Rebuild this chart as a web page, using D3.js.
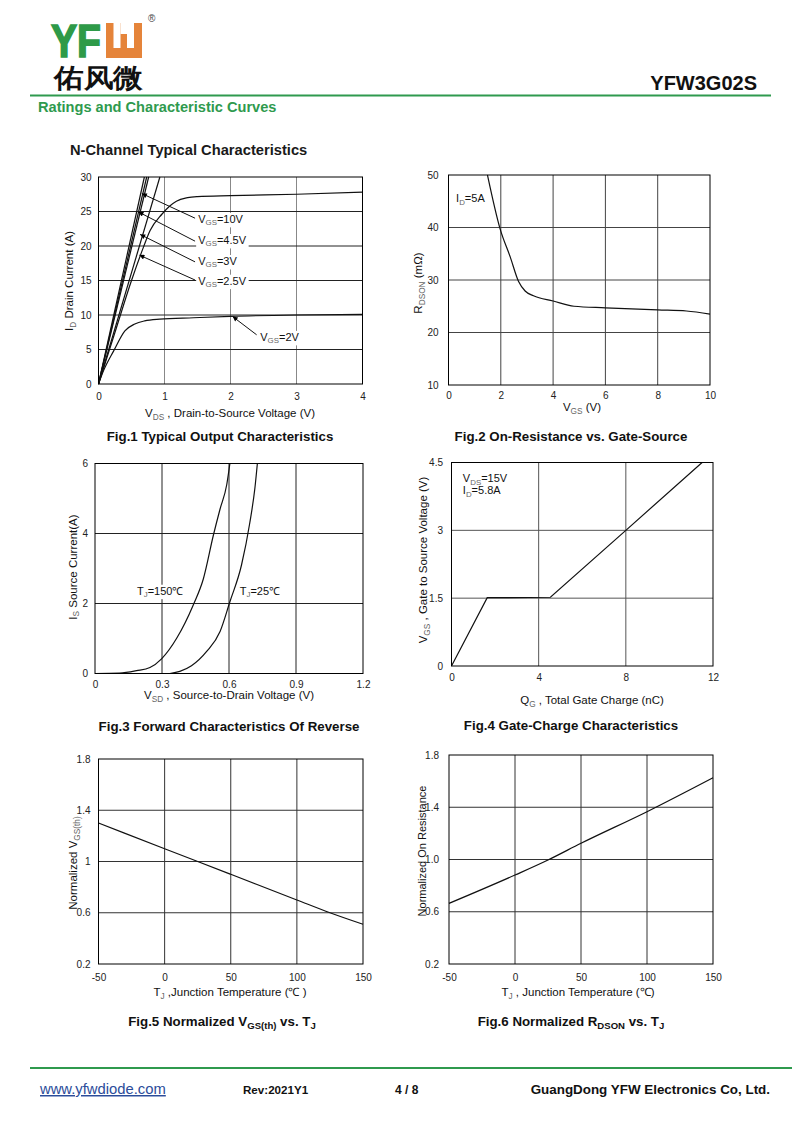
<!DOCTYPE html>
<html><head><meta charset="utf-8">
<script src="https://cdn.jsdelivr.net/npm/d3@7"></script>
<style>body{margin:0;background:#fff}svg text{font-family:"Liberation Sans",Arial,Helvetica,sans-serif}</style>
</head><body><svg id="c" width="800" height="1130"></svg>
<script>
// ---------------- DATA ----------------
const fig1XTicks = [0,1,2,3,4];
const fig1YTicks = [0,5,10,15,20,25,30];
const fig1Vgs10 = [[0,0],[0.695,30]];
const fig1Vgs45 = [[0,0],[0.73,30]];
const fig1Vgs3  = [[0,0],[0.76,30]];
const fig1Vgs25 = [[0,0],[0.93,30]];
const fig1Sat   = [[0,0],[0.25,7.5],[0.5,15],[0.68,19.8],[0.78,22.2],[0.96,24.6],[1.08,25.8],[1.18,26.5],[1.35,27.0],[1.5,27.15],[2,27.3],[3,27.5],[4,27.8]];
const fig1Vgs2  = [[0,0],[0.075,1.9],[0.23,4.8],[0.4,7.7],[0.55,8.7],[0.7,9.15],[0.93,9.4],[1.44,9.6],[2,9.8],[3,10.0],[4,10.1]];
const fig1Labels = [
  {parts:["V","_GS","=10V"],  lx:1.51, ly:23.9, sx:1.463, sy:24.03, tx:0.657, ty:27.6},
  {parts:["V","_GS","=4.5V"], lx:1.51, ly:20.85, sx:1.463, sy:20.7, tx:0.605, ty:24.94},
  {parts:["V","_GS","=3V"],   lx:1.51, ly:17.8, sx:1.463, sy:17.7, tx:0.631, ty:21.68},
  {parts:["V","_GS","=2.5V"], lx:1.51, ly:14.95, sx:1.463, sy:15.07, tx:0.62, ty:18.68},
  {parts:["V","_GS","=2V"],   lx:2.45, ly:6.8, sx:2.396, sy:7.13, tx:2.033, ty:9.77}
];

const fig2XTicks = [0,2,4,6,8,10];
const fig2YTicks = [10,20,30,40,50];
const fig2Rdson = [[1.49,50],[1.97,39.8],[2.36,34.4],[2.68,29.7],[2.93,27.9],[3.25,27],[4,26],[4.8,25],[6,24.7],[8,24.3],[9.1,24.1],[10,23.5]];

const fig3XTicks = [0,0.3,0.6,0.9,1.2];
const fig3XLabels = ["0","0.3","0.6","0.9","1.2"];
const fig3YTicks = [0,2,4,6];
const fig3T150 = [[0,0],[0.11,0.01],[0.186,0.08],[0.246,0.17],[0.298,0.42],[0.365,1.0],[0.44,1.96],[0.485,2.7],[0.53,3.95],[0.56,4.7],[0.59,5.4],[0.604,6.0]];
const fig3T25  = [[0.335,0],[0.38,0.06],[0.432,0.22],[0.5,0.63],[0.56,1.2],[0.604,2.05],[0.656,3.1],[0.693,4.3],[0.716,5.3],[0.727,6.0]];

const fig4XTicks = [0,4,8,12];
const fig4YTicks = [0,1.5,3,4.5];
const fig4YLabels = ["0","1.5","3","4.5"];
const fig4Vgs = [[0,0],[1.64,1.51],[4.54,1.52],[8,3.0],[11.5,4.5]];

const fig5XTicks = [-50,0,50,100,150];
const fig5YTicks = [0.2,0.6,1.0,1.4,1.8];
const fig5YLabels = ["0.2","0.6","1","1.4","1.8"];
const fig5Vth = [[-50,1.3],[0,1.1],[25,1.0],[50,0.9],[100,0.7],[125,0.6],[150,0.51]];

const fig6XTicks = [-50,0,50,100,150];
const fig6YTicks = [0.2,0.6,1.0,1.4,1.8];
const fig6YLabels = ["0.2","0.6","1.0","1.4","1.8"];
const fig6Ron = [[-50,0.664],[0,0.881],[25,0.996],[50,1.124],[100,1.366],[150,1.626]];

// ---------------- DRAW ----------------
const FONT = '"Liberation Sans", Arial, Helvetica, sans-serif';
const GREEN = "#2f9a4e";
const svg = d3.select("#c");
svg.append("rect").attr("width",800).attr("height",1130).attr("fill","#fff");
const defs = svg.append("defs");
defs.append("marker").attr("id","ah").attr("viewBox","0 0 10 10").attr("refX",10).attr("refY",5)
  .attr("markerWidth",8).attr("markerHeight",5).attr("markerUnits","userSpaceOnUse").attr("orient","auto")
  .append("path").attr("d","M0,0L10,5L0,10z").attr("fill","#000");

function rich(sel, parts, fs, subFill){
  let shifted = false;
  parts.forEach(p=>{
    const isSub = p.startsWith("_");
    const t = sel.append("tspan").text(isSub ? p.slice(1) : p);
    if(isSub){
      t.attr("font-size", fs*0.72).attr("dy", fs*0.22);
      if(subFill) t.attr("fill", subFill);
      shifted = true;
    } else if(shifted){
      t.attr("dy", -fs*0.22); shifted = false;
    }
  });
  return sel;
}
function txt(g, x, y, parts, o){
  o = o || {};
  const fs = o.fs || 11.5;
  const t = g.append("text").attr("x",x).attr("y",y).attr("font-size",fs)
    .attr("font-family",FONT).attr("fill",o.fill||"#111")
    .attr("text-anchor",o.anchor||"start").attr("font-weight",o.bold?"bold":"normal");
  if(o.rotate) t.attr("transform",`rotate(-90,${x},${y})`);
  if(o.dy) t.attr("dy",o.dy);
  rich(t, parts, fs, o.subFill===undefined ? "#666" : o.subFill);
  if(o.bg){
    const b = t.node().getBBox();
    g.insert("rect", () => t.node()).attr("x",b.x-2).attr("y",b.y).attr("width",b.width+4).attr("height",b.height).attr("fill","#fff");
  }
  return t;
}

function plot(c){
  const g = svg.append("g");
  const x = d3.scaleLinear().domain(c.xd).range([c.L,c.R]);
  const y = d3.scaleLinear().domain(c.yd).range([c.B,c.T]);
  g.selectAll(null).data(c.xt.slice(1,-1)).join("line")
    .attr("x1",d=>x(d)).attr("x2",d=>x(d)).attr("y1",c.T).attr("y2",c.B)
    .attr("stroke",c.gv||"#333").attr("stroke-width",1);
  g.selectAll(null).data(c.yt.slice(1,-1)).join("line")
    .attr("y1",d=>y(d)).attr("y2",d=>y(d)).attr("x1",c.L).attr("x2",c.R)
    .attr("stroke",c.gh||"#333").attr("stroke-width",1);
  const xl = c.xl || c.xt.map(String), yl = c.yl || c.yt.map(String);
  const ax = g.append("g").attr("transform",`translate(0,${c.B})`)
    .call(d3.axisBottom(x).tickValues(c.xt).tickFormat((d,i)=>xl[i]).tickSize(0).tickPadding(c.xp));
  const ay = g.append("g").attr("transform",`translate(${c.L},0)`)
    .call(d3.axisLeft(y).tickValues(c.yt).tickFormat((d,i)=>yl[i]).tickSize(0).tickPadding(c.yp));
  [ax,ay].forEach(a=>{
    a.select(".domain").remove();
    a.attr("font-family",FONT).attr("font-size",10);
    a.selectAll("text").attr("fill","#222");
  });
  const curves = g.append("g");
  const line = d3.line().x(d=>x(d[0])).y(d=>y(d[1])).curve(c.curve||d3.curveMonotoneX);
  c.series.forEach(s=>{
    curves.append("path").datum(s).attr("d",line).attr("fill","none").attr("stroke","#111").attr("stroke-width",1.2);
  });
  return {g,x,y,frame:()=>g.append("rect").attr("x",c.L).attr("y",c.T).attr("width",c.R-c.L).attr("height",c.B-c.T)
    .attr("fill","none").attr("stroke","#000").attr("stroke-width",1)};
}

// ---- Header ----
const hd = svg.append("g");
hd.append("text").attr("x",51).attr("y",57).attr("font-size",47).attr("font-weight","bold")
  .attr("font-family",FONT).attr("fill","#2e9a48").attr("stroke","#2e9a48").attr("stroke-width",1.6)
  .attr("textLength",50).attr("lengthAdjust","spacingAndGlyphs").text("YF");
hd.append("rect").attr("x",106).attr("y",23).attr("width",36).attr("height",35).attr("fill","#e5843a");
hd.append("rect").attr("x",113.5).attr("y",23).attr("width",7).attr("height",25).attr("fill","#fff");
hd.append("rect").attr("x",127).attr("y",23).attr("width",7).attr("height",25).attr("fill","#fff");
hd.append("rect").attr("x",120.5).attr("y",23).attr("width",7).attr("height",11).attr("fill","#fff");
hd.append("text").attr("x",148).attr("y",22).attr("font-size",10).attr("font-family",FONT).attr("fill","#444").text("®");
hd.append("text").attr("x",54).attr("y",87).attr("font-size",26).attr("font-weight","bold")
  .attr("font-family",'"Noto Sans CJK SC",sans-serif').attr("fill","#111").attr("textLength",89).attr("lengthAdjust","spacingAndGlyphs").text("佑风微");
hd.append("text").attr("x",757).attr("y",90).attr("text-anchor","end").attr("font-size",20).attr("font-weight","bold")
  .attr("font-family",FONT).attr("fill","#111").text("YFW3G02S");
hd.append("line").attr("x1",30).attr("x2",771).attr("y1",95.5).attr("y2",95.5).attr("stroke",GREEN).attr("stroke-width",2.2);
hd.append("text").attr("x",38).attr("y",112).attr("font-size",14.6).attr("font-weight","bold")
  .attr("font-family",FONT).attr("fill",GREEN).text("Ratings and Characteristic Curves");
hd.append("text").attr("x",70).attr("y",155).attr("font-size",14.7).attr("font-weight","bold")
  .attr("font-family",FONT).attr("fill","#1a1a1a").text("N-Channel Typical Characteristics");

// ---- Fig 1 ----
const p1 = plot({L:98.5,R:362.5,T:177,B:384,xd:[0,4],yd:[0,30],xt:fig1XTicks,yt:fig1YTicks,xp:9,yp:7,
  gv:"#888",gh:"#222",series:[fig1Vgs10,fig1Vgs45,fig1Vgs3,fig1Vgs25,fig1Sat,fig1Vgs2]});
fig1Labels.forEach(a=>{
  txt(p1.g, p1.x(a.lx), p1.y(a.ly), a.parts, {fs:11, dy:"0.35em", bg:true});
});
fig1Labels.forEach(a=>{
  p1.g.append("line").attr("x1",p1.x(a.sx)).attr("y1",p1.y(a.sy)).attr("x2",p1.x(a.tx)).attr("y2",p1.y(a.ty))
    .attr("stroke","#111").attr("stroke-width",1).attr("marker-end","url(#ah)");
});
p1.frame();
txt(p1.g, 230, 417, ["V","_DS"," , Drain-to-Source Voltage (V)"], {anchor:"middle"});
txt(p1.g, 69, 281, ["I","_D"," Drain Current (A)"], {anchor:"middle", rotate:true, dy:"0.35em"});
txt(p1.g, 220, 441, ["Fig.1 Typical Output Characteristics"], {anchor:"middle", bold:true, fs:13.3});

// ---- Fig 2 ----
const p2 = plot({L:448.5,R:710,T:175,B:385,xd:[0,10],yd:[10,50],xt:fig2XTicks,yt:fig2YTicks,xp:6.5,yp:10,
  gv:"#444",gh:"#444",series:[fig2Rdson]});
txt(p2.g, p2.x(0.29), p2.y(45.56), ["I","_D","=5A"], {fs:11, dy:"0.35em"});
p2.frame();
txt(p2.g, 582, 411, ["V","_GS"," (V)"], {anchor:"middle"});
txt(p2.g, 418, 283, ["R","_DSON"," (m\u03A9)"], {anchor:"middle", rotate:true, dy:"0.35em"});
txt(p2.g, 571, 441, ["Fig.2 On-Resistance vs. Gate-Source"], {anchor:"middle", bold:true, fs:13.3});

// ---- Fig 3 ----
const p3 = plot({L:95,R:363,T:463.5,B:673.5,xd:[0,1.2],yd:[0,6],xt:fig3XTicks,xl:fig3XLabels,yt:fig3YTicks,xp:7.5,yp:7,
  gv:"#222",gh:"#222",series:[fig3T150,fig3T25]});
txt(p3.g, p3.x(0.188), p3.y(2.36), ["T","_J","=150\u2103"], {fs:11, dy:"0.35em", bg:true});
txt(p3.g, p3.x(0.648), p3.y(2.36), ["T","_J","=25\u2103"], {fs:11, dy:"0.35em", bg:true});
p3.frame();
txt(p3.g, 229, 699, ["V","_SD"," , Source-to-Drain Voltage (V)"], {anchor:"middle"});
txt(p3.g, 72.5, 567, ["I","_S"," Source Current(A)"], {anchor:"middle", rotate:true, dy:"0.35em"});
txt(p3.g, 229, 731, ["Fig.3 Forward Characteristics Of Reverse"], {anchor:"middle", bold:true, fs:13.3});

// ---- Fig 4 ----
const p4 = plot({L:451.5,R:713,T:462.5,B:666,xd:[0,12],yd:[0,4.5],xt:fig4XTicks,yt:fig4YTicks,yl:fig4YLabels,xp:8,yp:8.5,
  gv:"#555",gh:"#555",series:[fig4Vgs],curve:d3.curveLinear});
txt(p4.g, p4.x(0.52), p4.y(4.15), ["V","_DS","=15V"], {fs:11, dy:"0.35em"});
txt(p4.g, p4.x(0.52), p4.y(3.88), ["I","_D","=5.8A"], {fs:11, dy:"0.35em"});
p4.frame();
txt(p4.g, 592, 704, ["Q","_G"," , Total Gate Charge (nC)"], {anchor:"middle"});
txt(p4.g, 423, 560, ["V","_GS"," , Gate to Source Voltage (V)"], {anchor:"middle", rotate:true, dy:"0.35em"});
txt(p4.g, 571, 730, ["Fig.4 Gate-Charge Characteristics"], {anchor:"middle", bold:true, fs:13.3});

// ---- Fig 5 ----
const p5 = plot({L:98.5,R:363,T:759,B:964,xd:[-50,150],yd:[0.2,1.8],xt:fig5XTicks,yt:fig5YTicks,yl:fig5YLabels,xp:9.5,yp:8,
  gv:"#333",gh:"#333",series:[fig5Vth]});
p5.frame();
txt(p5.g, 230, 996, ["T","_J"," ,Junction Temperature (\u2103 )"], {anchor:"middle"});
txt(p5.g, 73, 863, ["Normalized V","_GS(th)"], {anchor:"middle", rotate:true, dy:"0.35em"});
txt(p5.g, 222, 1026, ["Fig.5 Normalized V","_GS(th)"," vs. T","_J"], {anchor:"middle", bold:true, fs:13.3, subFill:null});

// ---- Fig 6 ----
const p6 = plot({L:449,R:713,T:755,B:964,xd:[-50,150],yd:[0.2,1.8],xt:fig6XTicks,yt:fig6YTicks,yl:fig6YLabels,xp:9.5,yp:10,
  gv:"#333",gh:"#333",series:[fig6Ron]});
p6.frame();
txt(p6.g, 578, 996, ["T","_J"," , Junction Temperature (\u2103)"], {anchor:"middle"});
txt(p6.g, 422, 851, ["Normalized On Resistance"], {anchor:"middle", rotate:true, dy:"0.35em", fs:11});
txt(p6.g, 571, 1026, ["Fig.6 Normalized R","_DSON"," vs. T","_J"], {anchor:"middle", bold:true, fs:13.3, subFill:null});

// ---- Footer ----
const ft = svg.append("g");
ft.append("line").attr("x1",30).attr("x2",792).attr("y1",1068).attr("y2",1068).attr("stroke",GREEN).attr("stroke-width",2.2);
ft.append("text").attr("x",40).attr("y",1094).attr("font-size",14.8).attr("font-family",FONT).attr("fill","#2b4c9a")
  .attr("text-decoration","underline").text("www.yfwdiode.com");
ft.append("text").attr("x",243).attr("y",1094).attr("font-size",11.6).attr("font-weight","bold").attr("font-family",FONT).attr("fill","#111").text("Rev:2021Y1");
ft.append("text").attr("x",395).attr("y",1094).attr("font-size",12).attr("font-weight","bold").attr("font-family",FONT).attr("fill","#111").text("4 / 8");
ft.append("text").attr("x",770).attr("y",1094).attr("text-anchor","end").attr("font-size",13.4).attr("font-weight","bold").attr("font-family",FONT).attr("fill","#111").text("GuangDong YFW Electronics Co, Ltd.");
</script></body></html>
